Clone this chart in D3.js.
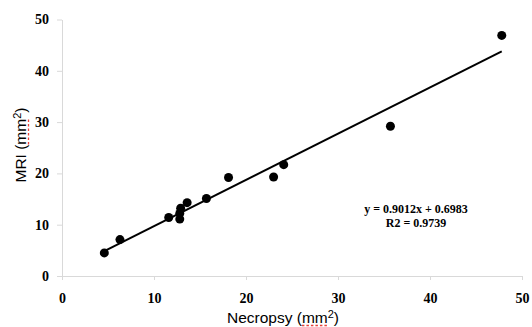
<!DOCTYPE html>
<html>
<head>
<meta charset="utf-8">
<script src="https://cdn.jsdelivr.net/npm/d3@7"></script>
<style>
  body { margin: 0; background: #fff; }
  .axis path, .axis line { stroke: #d9d9d9; }
  .axis text { font-family: "Liberation Serif", "Times New Roman", serif; font-weight: bold; font-size: 14px; fill: #000; }
</style>
</head>
<body>
<div id="chart"></div>
<script>
// necropsy vs MRI areas (mm2)
var necropsy = [4.6, 6.3, 11.6, 12.8, 12.8, 12.9, 13.6, 15.7, 18.1, 23.0, 24.1, 35.7, 47.8];
var mri      = [4.5, 7.1, 11.4, 11.1, 12.2, 13.2, 14.3, 15.1, 19.2, 19.3, 21.7, 29.2, 46.9];
var xTicks = [0, 10, 20, 30, 40, 50];
var yTicks = [0, 10, 20, 30, 40, 50];
var slope = 0.9012, intercept = 0.6983, r2 = 0.9739;
var eqLines = ["y = 0.9012x + 0.6983", "R2 = 0.9739"];

var w = 532, h = 327;

var svg = d3.select("#chart")
            .append("svg")
            .attr("width", w)
            .attr("height", h);

var xScale = d3.scaleLinear().domain([0, 50]).range([62, 522]);
var yScale = d3.scaleLinear().domain([0, 50]).range([276, 19.5]);

var xAxis = d3.axisBottom(xScale).tickValues(xTicks).tickSize(4).tickSizeOuter(0).tickPadding(13);
var yAxis = d3.axisLeft(yScale).tickValues(yTicks).tickSize(5).tickSizeOuter(0).tickPadding(8);

svg.append("g")
   .attr("class", "x axis")
   .attr("transform", "translate(0," + yScale(0) + ")")
   .call(xAxis);

svg.append("g")
   .attr("class", "y axis")
   .attr("transform", "translate(" + xScale(0) + ",0)")
   .call(yAxis);

// trend line over the data range
var xMin = d3.min(necropsy), xMax = d3.max(necropsy);
svg.append("line")
   .attr("x1", xScale(xMin))
   .attr("y1", yScale(slope * xMin + intercept))
   .attr("x2", xScale(xMax))
   .attr("y2", yScale(slope * xMax + intercept))
   .attr("stroke", "#000")
   .attr("stroke-width", 2);

svg.selectAll("circle")
   .data(necropsy)
   .enter().append("circle")
   .attr("r", 4.5)
   .attr("fill", "#000")
   .attr("cx", function(d) { return xScale(d); })
   .attr("cy", function(d, i) { return yScale(mri[i]); });

// equation
var eq = svg.append("text")
   .attr("x", 416)
   .attr("y", 213)
   .attr("text-anchor", "middle")
   .style("font-family", "'Liberation Serif', 'Times New Roman', serif")
   .style("font-weight", "bold")
   .style("font-size", "12px");
eq.selectAll("tspan")
  .data(eqLines)
  .enter().append("tspan")
  .attr("x", 416)
  .attr("dy", function(d, i) { return i == 0 ? 0 : 14; })
  .text(function(d) { return d; });

// axis titles
function axisTitle(g, label) {
  var t = g.append("text")
     .attr("text-anchor", "middle")
     .style("font-family", "'Liberation Sans', Arial, sans-serif")
     .style("font-size", "15.5px")
     .attr("fill", "#000");
  t.append("tspan").text(label + " (");
  var mm = t.append("tspan").text("mm");
  t.append("tspan").attr("dy", -5).style("font-size", "11px").text("2");
  t.append("tspan").attr("dy", 5).text(")");
  // red spell-check dashes under "mm"
  var n = (label + " (").length;
  var x0 = t.node().getStartPositionOfChar(n).x;
  var x1 = t.node().getEndPositionOfChar(n + 1).x;
  g.append("line")
   .attr("x1", x0).attr("x2", x1)
   .attr("y1", 2.5).attr("y2", 2.5)
   .attr("stroke", "#e8403a")
   .attr("stroke-width", 1.3)
   .attr("stroke-dasharray", "2.5,2");
}

var xt = svg.append("g").attr("transform", "translate(283,323)");
axisTitle(xt, "Necropsy");

var yt = svg.append("g").attr("transform", "translate(26,145) rotate(-90)");
axisTitle(yt, "MRI");
</script>
</body>
</html>
